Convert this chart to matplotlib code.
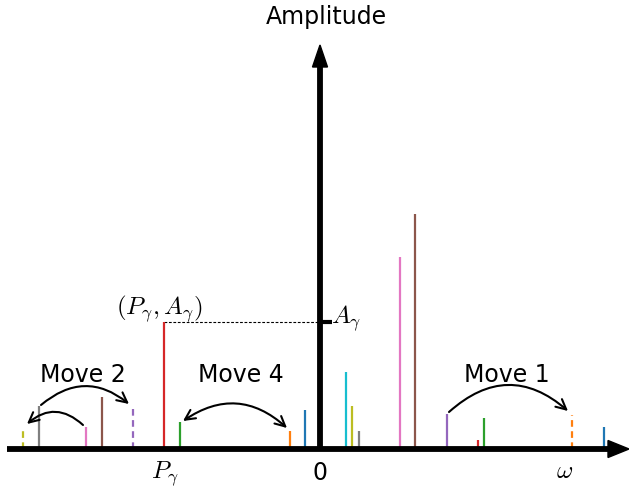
import matplotlib
matplotlib.use("Agg")
import matplotlib.pyplot as plt
from matplotlib.patches import Polygon

plt.rcParams['mathtext.fontset'] = 'cm'

# Spectrum lines: frequency position and amplitude (arbitrary units)
left_freq = [-297, -281, -234, -218, -187, -156, -140, -30, -15]
left_amp = [22, 43, 22, 52, 43, 127, 27, 18, 39]
left_colors = ['C8', 'C7', 'C6', 'C5', 'C4', 'C3', 'C2', 'C1', 'C0']
left_dashed = [True, False, False, False, True, False, False, False, False]

right_freq = [26, 32, 39, 80, 95, 127, 158, 164, 252, 284]
right_amp = [77, 43, 18, 192, 235, 35, 9, 31, 34, 22]
right_colors = ['C9', 'C8', 'C7', 'C6', 'C5', 'C4', 'C3', 'C2', 'C1', 'C0']
right_dashed = [False, False, False, False, False, False, False, False, True, False]

# Highlighted component (P_gamma, A_gamma)
p_gamma = -156
a_gamma = 127

fig = plt.figure(figsize=(6.29, 4.89), dpi=100)
ax = fig.add_axes([0, 0, 1, 1])
ax.set_xlim(-320, 309)
ax.set_ylim(-39, 450)
ax.axis('off')

for freqs, amps, cols, dashes in [(left_freq, left_amp, left_colors, left_dashed),
                                   (right_freq, right_amp, right_colors, right_dashed)]:
    for f, a, c, d in zip(freqs, amps, cols, dashes):
        ax.plot([f, f], [0, a], color=c, lw=1.6,
                linestyle=(0, (3, 2)) if d else '-', zorder=2,
                solid_capstyle='butt', dash_capstyle='butt')

# Axes arrows
ax.plot([-313, 290], [0, 0], color='black', lw=4.2, solid_capstyle='butt', zorder=3)
ax.add_patch(Polygon([[288, 8.5], [309, 0], [288, -8.5]], closed=True,
                     color='black', zorder=3))
ax.plot([0, 0], [0, 384], color='black', lw=4.2, solid_capstyle='butt', zorder=3)
ax.add_patch(Polygon([[-7.5, 382], [0, 404], [7.5, 382]], closed=True,
                     color='black', zorder=3))

# A_gamma tick and dashed guide
ax.plot([0, 12], [a_gamma, a_gamma], color='black', lw=3, solid_capstyle='butt', zorder=3)
ax.plot([p_gamma, 0], [a_gamma, a_gamma], color='black', lw=0.8,
        linestyle=(0, (2.5, 1.5)), zorder=1)

# Labels
ax.text(6, 433, 'Amplitude', fontsize=17, ha='center', va='center')
ax.text(0, -30, '0', fontsize=17, ha='center', va='baseline')
ax.text(p_gamma + 1, -28, r'$P_\gamma$', fontsize=18, ha='center', va='baseline')
ax.text(245, -28, r'$\omega$', fontsize=18, ha='center', va='baseline')
ax.text(-161, 136, r'$(P_\gamma, A_\gamma)$', fontsize=18, ha='center', va='baseline')
ax.text(11, 127, r'$A_\gamma$', fontsize=18, ha='left', va='baseline')

ax.text(-237, 75, 'Move 2', fontsize=17, ha='center', va='center')
ax.text(-79, 75, 'Move 4', fontsize=17, ha='center', va='center')
ax.text(187, 75, 'Move 1', fontsize=17, ha='center', va='center')

def arc(start, end, rad, style='->'):
    ax.annotate('', xy=end, xytext=start,
                arrowprops=dict(arrowstyle=style, connectionstyle=f'arc3,rad={rad}',
                                lw=1.5, color='black', shrinkA=0, shrinkB=0,
                                mutation_scale=18), zorder=4)

arc((-279, 44), (-191, 45), -0.41)
arc((-237, 24), (-293, 25), 0.44)
arc((-137, 28), (-33, 21), -0.39, style='<->')
arc((129, 37), (248, 38), -0.44)

fig.savefig('out.png', dpi=100)
